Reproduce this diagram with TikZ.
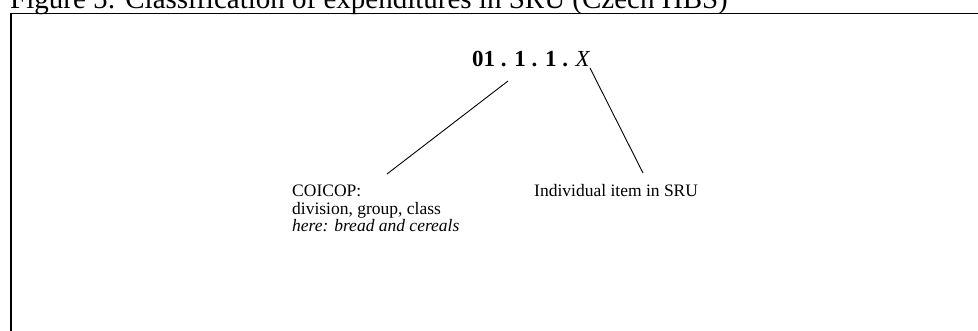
\documentclass[tikz,border=0pt]{standalone}
\usepackage{fontspec}
\setmainfont{Liberation Serif}
\begin{document}
\begin{tikzpicture}[x=1pt,y=-1pt,
  lbl/.style={inner sep=0pt,font=\fontsize{17.5}{17.3}\selectfont},
  conn/.style={line width=0.9pt,black}]
\useasboundingbox (0,0) rectangle (978,331);
% title (cut at top)
\node[inner sep=0pt,anchor=base west,font=\fontsize{29}{32}\selectfont] (title) at (10,9) {Figure 5: Classification of expenditures in SRU (Czech HBS)};
% frame
\draw[line width=1.1pt] (11,335) -- (11,13.3) -- (982,13.3);
% code
\node[inner sep=0pt,anchor=base west,font=\fontsize{23}{26}\selectfont] (code) at (472,67) {\textbf{01 . 1 . 1 .} \textit{X}};
\node[lbl,anchor=base west] (coicop) at (292,197) {COICOP:};
\node[lbl,anchor=base west] (coicop2) at (292,214.3) {division, group, class};
\node[lbl,anchor=base west] (coicop3) at (292,231.6) {\textit{here: bread and cereals}};
\node[lbl,anchor=base west] (indiv) at (534,197) {Individual item in SRU};
\coordinate (c1top) at (508,81);
\coordinate (c1bot) at (387,174);
\coordinate (c2top) at (590,68);
\coordinate (c2bot) at (643,173);
\draw[conn] (c1top) -- (c1bot);
\draw[conn] (c2top) -- (c2bot);
\end{tikzpicture}
\end{document}
